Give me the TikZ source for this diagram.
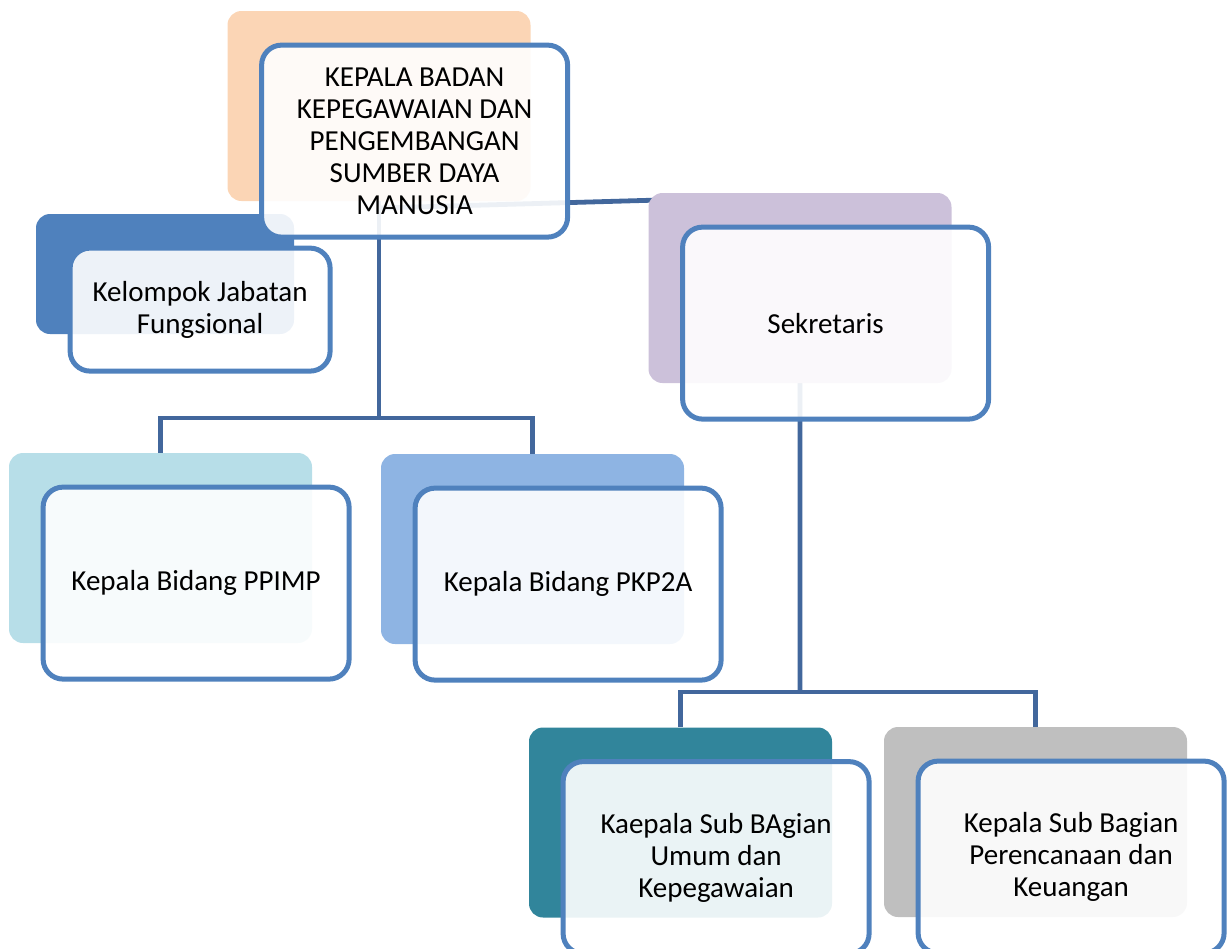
\documentclass[tikz,border=0pt]{standalone}
\usepackage{fontspec}
\setmainfont{Carlito}
\usepackage{tikz}
\usetikzlibrary{positioning}
\pgfdeclarelayer{background}
\pgfsetlayers{background,main}
\definecolor{boxline}{RGB}{79,129,189}
\definecolor{connline}{RGB}{66,103,156}
\definecolor{peach}{RGB}{251,213,181}
\definecolor{steel}{RGB}{79,129,189}
\definecolor{lilac}{RGB}{204,193,218}
\definecolor{paleteal}{RGB}{183,222,232}
\definecolor{skyblue}{RGB}{142,180,227}
\definecolor{deepteal}{RGB}{49,133,155}
\definecolor{midgray}{RGB}{191,191,191}

\begin{document}
\begin{tikzpicture}[x=0.5pt, y=-0.5pt,
    back/.style={rounded corners=7pt, inner sep=0pt,
      minimum width=151.5pt, minimum height=95pt},
    front/.style={draw=boxline, line width=2.5pt, fill=white,
      fill opacity=0.9, text opacity=1, rounded corners=10pt,
      inner sep=0pt, align=center, anchor=north west,
      minimum width=153pt, minimum height=96pt,
      font=\fontsize{14.5}{16}\selectfont},
    conn/.style={draw=connline, line width=2.4pt}]
  \useasboundingbox (0,0) rectangle (1231,948);

  % coloured back plates
  \node[back, fill=peach] (kepalaB) at (379,106) {};
  \node[back, fill=steel, minimum width=129pt, minimum height=60pt] (kelompokB) at (165,274) {};
  \node[back, fill=lilac] (sekB) at (800,288) {};
  \node[back, fill=paleteal] (ppimpB) at (160.5,548) {};
  \node[back, fill=skyblue] (pkpB) at (532.5,549) {};
  \node[back, fill=deepteal] (umumB) at (680.5,822.5) {};
  \node[back, fill=midgray] (renB) at (1035.5,822) {};

  % framed boxes with the texts
  \node[front] (kepala) at ([shift={(32,32)}]kepalaB.north west)
    {KEPALA BADAN\\KEPEGAWAIAN DAN\\PENGEMBANGAN\\SUMBER DAYA\\MANUSIA};
  \node[front, minimum width=130pt, minimum height=61.5pt] (kelompok)
    at ([shift={(32,32)}]kelompokB.north west) {Kelompok Jabatan\\Fungsional};
  \node[front] (sek) at ([shift={(32,32)}]sekB.north west) {Sekretaris\hspace*{10pt}};
  \node[front] (ppimp) at ([shift={(32,32)}]ppimpB.north west) {Kepala Bidang PPIMP};
  \node[front] (pkp) at ([shift={(32,32)}]pkpB.north west) {Kepala Bidang PKP2A};
  \node[front] (umum) at ([shift={(32,32)}]umumB.north west)
    {Kaepala Sub BAgian\\Umum dan\\Kepegawaian};
  \node[front] (ren) at ([shift={(32,32)}]renB.north west)
    {Kepala Sub Bagian\\Perencanaan dan\\Keuangan};

  % connectors
  \begin{pgfonlayer}{background}
    \draw[conn] (kepalaB.center) -- (kepalaB.center |- 0,418) coordinate (fork1);
    \draw[conn] (ppimpB.north) |- (fork1) -| (pkpB.north);
    \draw[conn] (kepalaB.center |- 0,208) -- (sekB.center |- 0,196)
      -- (sekB.center |- 0,692) coordinate (fork2);
    \draw[conn] (umumB.north) |- (fork2) -| (renB.north);
  \end{pgfonlayer}
\end{tikzpicture}
\end{document}
